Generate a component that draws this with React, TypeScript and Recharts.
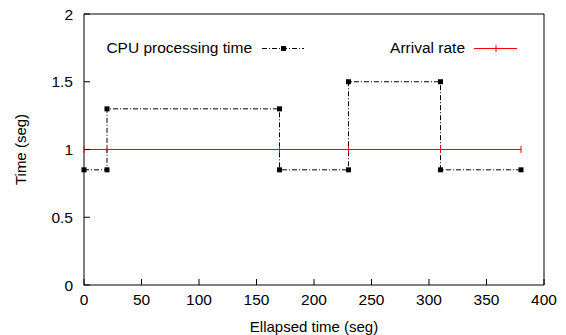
import { ComposedChart, Line, XAxis, YAxis, Legend } from "recharts";

// step profile of CPU time vs arrival rate
const elapsed = [0, 20, 20, 170, 170, 230, 230, 310, 310, 380];
const cpuTime = [0.85, 0.85, 1.3, 1.3, 0.85, 0.85, 1.5, 1.5, 0.85, 0.85];
const arrivalTimes = [0, 20, 170, 230, 310, 380];
const arrivalRate = [1, 1, 1, 1, 1, 1];
const xTicks = [0, 50, 100, 150, 200, 250, 300, 350, 400];
const yTicks = [0, 0.5, 1, 1.5, 2];

const cpuData = elapsed.map((x, i) => ({ x, y: cpuTime[i] }));
const arrivalData = arrivalTimes.map((x, i) => ({ x, y: arrivalRate[i] }));

const FONT = "'Liberation Sans', Arial, sans-serif";
const DASH = "5 2 1 2";
const CPU_NAME = "CPU processing time";
const ARRIVAL_NAME = "Arrival rate";

const SquareDot = (props: any) => {
  const { cx, cy, index } = props;
  if (cx == null || cy == null) return <g key={`s-${index}`} />;
  return <rect key={`s-${index}`} x={cx - 2.5} y={cy - 2.5} width={5} height={5} fill="#000" />;
};

const PlusDot = (props: any) => {
  const { cx, cy, index } = props;
  if (cx == null || cy == null) return <g key={`p-${index}`} />;
  return (
    <line key={`p-${index}`} x1={cx} x2={cx} y1={cy - 3.5} y2={cy + 3.5} stroke="#ff0000" strokeWidth={1} />
  );
};

const NoTick = () => <g />;

const KeyBox = ({ payload }: any) => {
  const items = payload || [];
  return (
    <div style={{ position: "relative", width: 566, height: 24, fontFamily: FONT, fontSize: 15.5 }}>
      {items.map((entry: any) => {
        const isCpu = entry.value === CPU_NAME;
        const slot = isCpu ? { textRight: 252, sampleLeft: 262 } : { textRight: 465, sampleLeft: 474 };
        return (
          <div key={entry.value}>
            <div
              style={{
                position: "absolute",
                right: 566 - slot.textRight,
                top: 0,
                lineHeight: "24px",
                whiteSpace: "nowrap",
                color: "#000",
              }}
            >
              {entry.value}
            </div>
            <svg
              style={{ position: "absolute", left: slot.sampleLeft, top: 0 }}
              width={44}
              height={24}
            >
              {isCpu ? (
                <>
                  <line x1={0} x2={42} y1={12.5} y2={12.5} stroke="#000" strokeDasharray={DASH} />
                  <rect x={19} y={10} width={5} height={5} fill="#000" />
                </>
              ) : (
                <>
                  <line x1={0} x2={43} y1={12.5} y2={12.5} stroke="#ff0000" />
                  <line x1={22} x2={22} y1={9} y2={16} stroke="#ff0000" />
                </>
              )}
            </svg>
          </div>
        );
      })}
    </div>
  );
};

export default function App() {
  return (
    <div style={{ position: "absolute", left: 0, top: 0, background: "#fff" }}>
      <ComposedChart
        width={566}
        height={335}
        margin={{ top: 13, right: 21, bottom: 0, left: 0 }}
        style={{ fontFamily: FONT }}
      >
        <XAxis
          dataKey="x"
          type="number"
          domain={[0, 400]}
          ticks={xTicks}
          height={50}
          tickSize={-6}
          tickMargin={15}
          stroke="#000"
          tick={{ fill: "#000", fontSize: 15.5 }}
          tickLine={{ stroke: "#000" }}
          axisLine={{ stroke: "#000" }}
          label={{ value: "Ellapsed time (seg)", position: "insideBottom", offset: 3, fill: "#000", fontSize: 15 }}
        />
        <XAxis
          xAxisId="top"
          orientation="top"
          dataKey="x"
          type="number"
          domain={[0, 400]}
          ticks={xTicks}
          height={1}
          tickSize={-6}
          tick={NoTick}
          stroke="#000"
          tickLine={{ stroke: "#000" }}
          axisLine={{ stroke: "#000" }}
        />
        <YAxis
          type="number"
          domain={[0, 2]}
          ticks={yTicks}
          width={84}
          tickSize={-6}
          tickMargin={17}
          stroke="#000"
          tick={{ fill: "#000", fontSize: 15.5 }}
          tickLine={{ stroke: "#000" }}
          axisLine={{ stroke: "#000" }}
          label={{
            content: ({ viewBox }: any) => {
              const cx = 20;
              const cy = viewBox.y + viewBox.height / 2;
              return (
                <text
                  x={cx}
                  y={cy}
                  transform={`rotate(-90 ${cx} ${cy})`}
                  textAnchor="middle"
                  dominantBaseline="central"
                  fontSize={15}
                  fill="#000"
                  fontFamily={FONT}
                >
                  Time (seg)
                </text>
              );
            },
          }}
        />
        <YAxis
          yAxisId="right"
          orientation="right"
          type="number"
          domain={[0, 2]}
          ticks={yTicks}
          width={1}
          tickSize={-6}
          tick={NoTick}
          stroke="#000"
          tickLine={{ stroke: "#000" }}
          axisLine={{ stroke: "#000" }}
        />
        <Legend
          layout="horizontal"
          verticalAlign="middle"
          align="center"
          wrapperStyle={{ top: 36, left: 0, width: 566 }}
          content={KeyBox}
        />
        <Line
          data={cpuData}
          dataKey="y"
          name={CPU_NAME}
          type="linear"
          stroke="#000"
          strokeWidth={1}
          strokeDasharray={DASH}
          dot={SquareDot}
          activeDot={false}
          isAnimationActive={false}
        />
        <Line
          data={arrivalData}
          dataKey="y"
          name={ARRIVAL_NAME}
          type="linear"
          stroke="#ff0000"
          strokeWidth={1}
          dot={PlusDot}
          activeDot={false}
          isAnimationActive={false}
        />
      </ComposedChart>
    </div>
  );
}
